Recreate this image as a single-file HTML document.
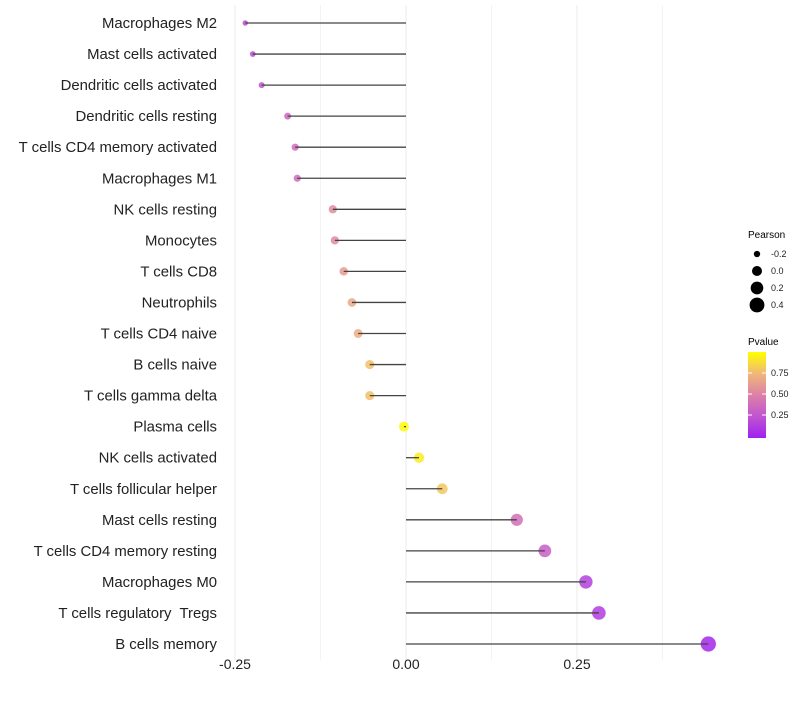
<!DOCTYPE html>
<html><head><meta charset="utf-8"><style>
body{margin:0;background:#fff;}
svg text{font-family:"Liberation Sans",sans-serif;white-space:pre;}
</style></head><body>
<svg id="chart" width="800" height="700">
<defs><linearGradient id="pg" x1="0" y1="1" x2="0" y2="0">
<stop offset="0" stop-color="#a020f0"/><stop offset="0.25" stop-color="#c055d0"/>
<stop offset="0.5" stop-color="#dd80a8"/><stop offset="0.75" stop-color="#f0b878"/>
<stop offset="1" stop-color="#ffff00"/></linearGradient></defs>
<g id="grid"></g>
<g id="marks"></g>
<g id="labels"></g>
<g id="xticks"></g>
<g>
<text x="748" y="238" font-size="10">Pearson</text>
<g id="sizeLegend"></g>
</g>
<g>
<text x="748" y="345" font-size="10">Pvalue</text>
<rect x="748" y="352" width="18" height="86" fill="url(#pg)"/>
<g id="cbTicks"></g>
</g>
</svg>
<script>
const categories=["Macrophages M2","Mast cells activated","Dendritic cells activated","Dendritic cells resting","T cells CD4 memory activated","Macrophages M1","NK cells resting","Monocytes","T cells CD8","Neutrophils","T cells CD4 naive","B cells naive","T cells gamma delta","Plasma cells","NK cells activated","T cells follicular helper","Mast cells resting","T cells CD4 memory resting","Macrophages M0","T cells regulatory  Tregs","B cells memory"];
const pearson=[-0.235,-0.224,-0.211,-0.173,-0.162,-0.159,-0.107,-0.104,-0.091,-0.079,-0.070,-0.053,-0.053,-0.003,0.019,0.053,0.162,0.203,0.263,0.282,0.442];
const pvalue=[0.2,0.2,0.25,0.35,0.38,0.38,0.55,0.55,0.62,0.68,0.7,0.78,0.78,0.99,0.93,0.8,0.4,0.3,0.15,0.13,0.03];
const xTicks=[-0.25,0,0.25];
const xTickLabels=["-0.25","0.00","0.25"];
const sizeLegend=[-0.2,0,0.2,0.4];
const cbTicks=[0.25,0.5,0.75];
const NS="http://www.w3.org/2000/svg";
const X=v=>406+v*684;
const Y=i=>23+i*31.05;
const R=v=>Math.sqrt(Math.max(3,25+75*v));
const CB=p=>436-p*84;
const stops=[[0,[160,32,240]],[0.25,[192,85,208]],[0.5,[221,128,168]],[0.75,[240,184,120]],[1,[255,255,0]]];
function col(p){for(let k=1;k<stops.length;k++){if(p<=stops[k][0]){const a=stops[k-1],b=stops[k],t=(p-a[0])/(b[0]-a[0]);return "rgb("+a[1].map((c,j)=>Math.round(c+(b[1][j]-c)*t)).join(",")+")";}}return "rgb(255,255,0)";}
function mk(tag,at,parent){const e=document.createElementNS(NS,tag);for(const k in at)e.setAttribute(k,at[k]);document.getElementById(parent).appendChild(e);return e;}
[-0.25,-0.125,0,0.125,0.25,0.375].forEach(v=>{const l=mk("line",{x1:X(v),x2:X(v),y1:5,y2:660,stroke:"#ebebeb","stroke-width":Number.isInteger(v*4)?1:0.6},"grid");

});
categories.forEach((c,i)=>{
const t=mk("text",{x:217,y:Y(i)+5,"text-anchor":"end","font-size":14.9,fill:"#222"},"labels");t.textContent=c;


const d=mk("circle",{cx:X(pearson[i]),cy:Y(i),r:R(pearson[i]),fill:col(pvalue[i]),"fill-opacity":0.85},"marks");


const l=mk("line",{x1:X(0),x2:X(pearson[i]),y1:Y(i),y2:Y(i),stroke:"#444","stroke-width":1.3},"marks");


});
xTicks.forEach((v,i)=>{const t=mk("text",{x:X(v),y:669,"text-anchor":"middle","font-size":14,fill:"#222"},"xticks");t.textContent=xTickLabels[i];

});
sizeLegend.forEach((v,i)=>{const y=254+i*17;
const c=mk("circle",{cx:757,cy:y,r:R(v),fill:"#000"},"sizeLegend");


const t=mk("text",{x:771,y:y+3,"font-size":9,fill:"#222"},"sizeLegend");t.textContent=v.toFixed(1);

});
cbTicks.forEach(p=>{const t=mk("text",{x:771,y:CB(p)+3,"font-size":9,fill:"#222"},"cbTicks");t.textContent=p.toFixed(2);


mk("line",{x1:748,x2:752,y1:CB(p),y2:CB(p),stroke:"#fff"},"cbTicks");
mk("line",{x1:762,x2:766,y1:CB(p),y2:CB(p),stroke:"#fff"},"cbTicks");});
</script>
</body></html>
